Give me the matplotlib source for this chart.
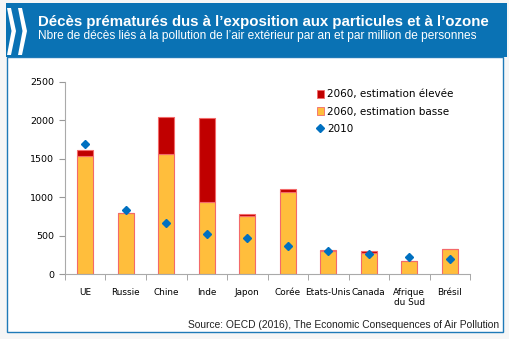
import matplotlib.pyplot as plt
from matplotlib.patches import Rectangle, Polygon
from matplotlib.lines import Line2D

# Data
categories = ['UE', 'Russie', 'Chine', 'Inde', 'Japon', 'Corée', 'Etats-Unis',
              'Canada', 'Afrique\ndu Sud', 'Brésil']
low_2060 = [1540, 800, 1558, 942, 760, 1064, 303, 277, 165, 321]
high_2060 = [1615, 800, 2048, 2035, 781, 1111, 310, 295, 165, 321]
val_2010 = [1690, 829, 668, 517, 473, 365, 300, 256, 221, 191]

W, H = 510, 339
fig = plt.figure(figsize=(W / 100, H / 100), dpi=100)
fig.patch.set_facecolor('#f6f6f6')

# background layer in pixel coordinates
bg = fig.add_axes([0, 0, 1, 1], zorder=0)
bg.set_xlim(0, W)
bg.set_ylim(H, 0)
bg.axis('off')
bg.add_patch(Rectangle((7, 57), 496, 275, facecolor='white', edgecolor='#1f7ab8', lw=1))
bg.add_patch(Rectangle((6, 3), 501, 54, facecolor='#0a72b4', edgecolor='none'))
for x0 in (7, 18):
    bg.add_patch(Polygon([(x0, 8), (x0 + 4, 8), (x0 + 9, 31), (x0 + 4, 55),
                          (x0, 55), (x0 + 4.5, 31)], closed=True,
                         facecolor='white', edgecolor='none'))
bg.text(38, 22, 'Décès prématurés dus à l’exposition aux particules et à l’ozone',
        color='white', fontsize=10.8, fontweight='bold', family='Liberation Sans', va='center')
bg.text(38, 36.5, 'Nbre de décès liés à la pollution de l’air extérieur par an et par million de personnes',
        color='white', fontsize=8.6, family='Liberation Sans', va='center')
bg.text(499, 325, 'Source: OECD (2016), The Economic Consequences of Air Pollution',
        color='#222222', fontsize=7.4, family='Liberation Sans', ha='right', va='center')

# chart
ax = fig.add_axes([65 / W, 1 - 274 / H, 405 / W, 192 / H], zorder=1)
ax.patch.set_alpha(0)
x = list(range(len(categories)))
diff = [h - l for h, l in zip(high_2060, low_2060)]
ax.bar(x, low_2060, width=0.4, color='#ffbe3c', edgecolor='#f36a6a', lw=0.8, zorder=2)
ax.bar(x, diff, bottom=low_2060, width=0.4, color='#c00000', edgecolor='#f36a6a', lw=0.8, zorder=2)
ax.plot(x, val_2010, linestyle='none', marker='D', markersize=4.5, color='#0070c0', zorder=3)

ax.set_xlim(-0.5, len(categories) - 0.5)
ax.set_ylim(0, 2500)
ax.set_yticks(range(0, 2501, 500))
ax.set_xticks(x)
ax.set_xticklabels(categories, fontsize=6.4)
ax.set_xticks([i - 0.5 for i in range(len(categories) + 1)], minor=True)
ax.tick_params(axis='x', which='major', length=0, pad=10)
ax.tick_params(axis='x', which='minor', length=4, color='#999999', direction='out')
ax.tick_params(axis='y', labelsize=6.8, length=4, color='#999999', pad=4)
for s in ('top', 'right'):
    ax.spines[s].set_visible(False)
for s in ('left', 'bottom'):
    ax.spines[s].set_color('#aaaaaa')

handles = [
    Rectangle((0, 0), 1, 1, facecolor='#c00000', edgecolor='#f36a6a', lw=0.6),
    Rectangle((0, 0), 1, 1, facecolor='#ffbe3c', edgecolor='#f36a6a', lw=0.6),
    Line2D([], [], linestyle='none', marker='D', markersize=4, color='#0070c0'),
]
ax.legend(handles, ['2060, estimation élevée', '2060, estimation basse', '2010'],
          loc='upper left', bbox_to_anchor=(0.6, 1.01), frameon=False, fontsize=7.5,
          handlelength=0.6, handleheight=0.8, handletextpad=0.35, labelspacing=0.7)

fig.savefig('out.png', dpi=100, facecolor=fig.get_facecolor())
